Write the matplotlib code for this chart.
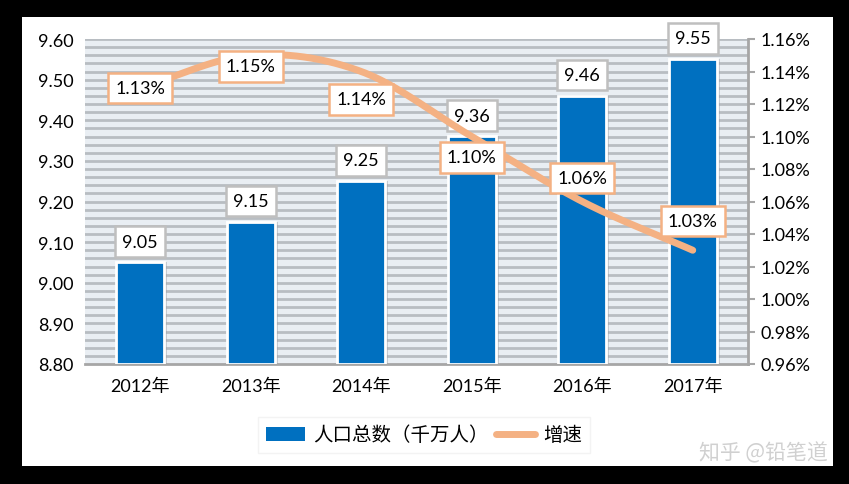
import numpy as np
import matplotlib.pyplot as plt
from matplotlib.patches import Rectangle
from matplotlib.lines import Line2D

plt.rcParams['font.family'] = ['Lato', 'Noto Sans CJK SC', 'DejaVu Sans']

years = ['2012年', '2013年', '2014年', '2015年', '2016年', '2017年']
population = [9.05, 9.15, 9.25, 9.36, 9.46, 9.55]
growth = [1.13, 1.15, 1.14, 1.10, 1.06, 1.03]
# label offsets (points) for growth labels
growth_off = [0, -8, -20, -15, 17, 21]

W, H = 849, 485
fig = plt.figure(figsize=(W / 100, H / 100), dpi=100, facecolor='black')
fig.patches.append(Rectangle((22 / W, 18 / H), (833 - 22) / W, (467 - 18) / H,
                             transform=fig.transFigure, facecolor='white',
                             edgecolor='none', zorder=-10))

ax = fig.add_axes([85 / W, 1 - 365 / H, (748 - 85) / W, (365 - 40) / H])
ax.set_facecolor('#e9eef3')
ax.set_xlim(-0.5, 5.5)
ax.set_ylim(8.80, 9.60)

# striped background
for v in np.arange(8.82, 9.601, 0.02):
    ax.axhline(v, color='#b8bdc2', lw=2.0, zorder=1)

x = np.arange(len(years))
# shadow
ax.bar(x + 0.03, np.array(population) - 8.80, width=0.43, bottom=8.80,
       color='#9aa0a6', alpha=0.45, zorder=2, edgecolor='none')
ax.bar(x, np.array(population) - 8.80, width=0.43, bottom=8.80,
       color='#0070c0', edgecolor='white', linewidth=2, zorder=3)

for xi, v in zip(x, population):
    ax.annotate(f'{v:.2f}', (xi, v), xytext=(0, 15), textcoords='offset points',
                ha='center', va='center', fontsize=13, zorder=6,
                bbox=dict(boxstyle='square,pad=0.4', fc='white', ec='#bfbfbf', lw=1.8))

ax.set_yticks(np.arange(8.80, 9.601, 0.10))
ax.set_yticklabels([f'{v:.2f}' for v in np.arange(8.80, 9.601, 0.10)], fontsize=13)
ax.tick_params(axis='y', length=0, pad=8)
ax.set_xticks(x)
ax.set_xticklabels(years, fontsize=13)
ax.tick_params(axis='x', length=0, pad=10)
for s in ['left', 'top', 'right']:
    ax.spines[s].set_visible(False)
ax.spines['bottom'].set_color('#a6a6a6')
ax.spines['bottom'].set_linewidth(2)

ax2 = ax.twinx()
ax2.set_ylim(0.96, 1.16)
ax2.set_xlim(-0.5, 5.5)

# smooth curve through the points (Catmull-Rom)
px = np.array(x, dtype=float)
py = np.array(growth)
ex = np.concatenate([[2 * px[0] - px[1]], px, [2 * px[-1] - px[-2]]])
ey = np.concatenate([[2 * py[0] - py[1]], py, [2 * py[-1] - py[-2]]])
cx, cy = [], []
t = np.linspace(0, 1, 30)
for i in range(1, len(ex) - 2):
    p0, p1, p2, p3 = ex[i - 1:i + 3]
    q0, q1, q2, q3 = ey[i - 1:i + 3]
    for arr, a0, a1, a2, a3 in ((cx, p0, p1, p2, p3), (cy, q0, q1, q2, q3)):
        arr.extend(0.5 * (2 * a1 + (-a0 + a2) * t + (2 * a0 - 5 * a1 + 4 * a2 - a3) * t ** 2
                          + (-a0 + 3 * a1 - 3 * a2 + a3) * t ** 3))
ax2.plot(cx, cy, color='#f4b183', lw=5, solid_capstyle='round', zorder=4)

for xi, v, off in zip(x, growth, growth_off):
    ax2.annotate(f'{v:.2f}%', (xi, v), xytext=(0, off), textcoords='offset points',
                 ha='center', va='center', fontsize=13, zorder=7,
                 bbox=dict(boxstyle='square,pad=0.4', fc='white', ec='#f4b183', lw=1.8))

rt = np.arange(0.96, 1.161, 0.02)
ax2.set_yticks(rt)
ax2.set_yticklabels([f'{v:.2f}%' for v in rt], fontsize=13)
ax2.tick_params(axis='y', length=5, width=1.5, color='#a6a6a6', pad=4)
for s in ['left', 'top', 'bottom']:
    ax2.spines[s].set_visible(False)
ax2.spines['right'].set_color('#a6a6a6')
ax2.spines['right'].set_linewidth(2)

handles = [Rectangle((0, 0), 1, 1, fc='#0070c0'),
           Line2D([0], [0], color='#f4b183', lw=5, solid_capstyle='round')]
leg = fig.legend(handles, ['人口总数（千万人）', '增速'], loc='center',
                 bbox_to_anchor=(424 / W, 1 - 436 / H), ncol=2, frameon=True,
                 prop={'family': ['Noto Sans CJK SC'], 'size': 14},
                 handlelength=2.0, handletextpad=0.4, columnspacing=0.4,
                 borderpad=0.4, fancybox=False, shadow=False)
leg.get_frame().set_edgecolor('#f0f0f0')

fig.text(828 / W, 1 - 453 / H, '知乎 @铅笔道', ha='right', va='center', fontsize=15,
         color='#d0d0d0', family=['Noto Sans CJK SC'])

fig.savefig('out.png', dpi=100, facecolor='black')
